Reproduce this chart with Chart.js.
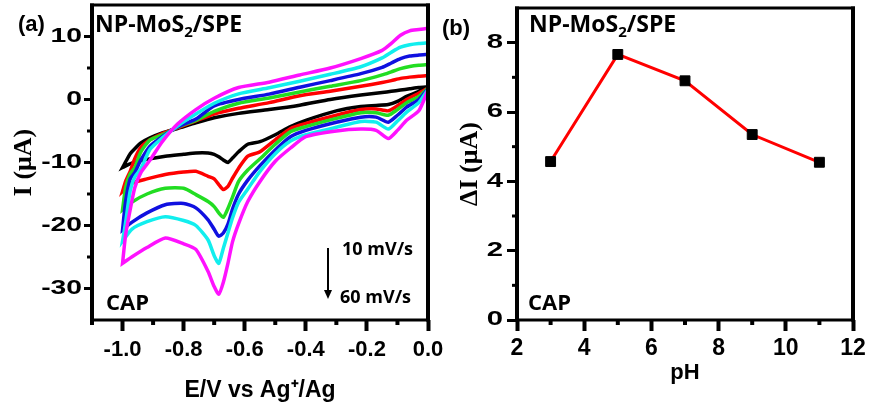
<!DOCTYPE html>
<html>
<head>
<meta charset="utf-8">
<script src="https://cdn.jsdelivr.net/npm/chart.js@4.4.1/dist/chart.umd.min.js"></script>
<style>
  html, body { margin: 0; padding: 0; background: #fff; }
  #wrap { position: relative; width: 870px; height: 405px; overflow: hidden; }
  .panel { position: absolute; top: 0; height: 405px; }
  #panelA { left: 0; width: 460px; }
  #panelB { left: 440px; width: 430px; }
</style>
</head>
<body>
<div id="wrap">
  <div class="panel" id="panelA"><canvas id="cvChart"></canvas></div>
  <div class="panel" id="panelB"><canvas id="phChart"></canvas></div>
</div>
<script>
// ---- (a) cyclic voltammograms, NP-MoS2/SPE in CAP, 10..60 mV/s ----
const scanColors = ['#000000', '#ff0000', '#22dd22', '#1010e0', '#11eeee', '#ff11ff'];

// cathodic sweep 0 -> -1.0 V
const potentialsDown = [0.0, -0.03, -0.07, -0.10, -0.13, -0.17, -0.22, -0.30, -0.40, -0.45, -0.50, -0.55, -0.59,
  -0.62, -0.64, -0.655, -0.67, -0.685, -0.70, -0.72, -0.76, -0.80, -0.86, -0.92, -0.97, -1.0];
// anodic sweep -1.0 -> 0 V
const potentialsUp = [-1.0, -0.99, -0.975, -0.96, -0.94, -0.91, -0.87, -0.82, -0.76, -0.70, -0.62, -0.52, -0.42,
  -0.32, -0.22, -0.15, -0.12, -0.09, -0.06, -0.03, 0.0];

const down10 = [1.9, 1.3, 0.5, -0.3, -0.8, -0.95, -1.1, -1.8, -3.3, -4.3, -5.6, -6.7, -7.1, -8.3, -9.3, -10.0, -9.6, -9.1, -8.7, -8.5, -8.5, -8.7, -9.0, -9.5, -10.1, -10.8];
const down20 = [1.8, 1.0, 0.0, -1.0, -1.8, -1.5, -1.6, -2.5, -3.8, -4.6, -6.4, -8.3, -9.0, -10.9, -12.5, -13.8, -14.3, -13.5, -12.6, -12.2, -11.4, -11.5, -11.9, -12.6, -13.3, -14.6];
const down30 = [1.8, 0.5, -0.5, -1.6, -2.5, -2.1, -2.1, -3.0, -4.3, -5.1, -7.1, -9.4, -11.2, -13.0, -15.5, -17.3, -18.7, -18.0, -17.0, -16.2, -15.1, -14.1, -14.1, -15.0, -16.3, -17.5];
const down40 = [1.7, 0.0, -1.2, -2.5, -3.6, -2.8, -2.8, -3.6, -4.9, -5.9, -8.0, -10.5, -12.8, -15.0, -17.4, -19.8, -21.2, -21.7, -20.6, -19.1, -17.2, -16.5, -16.7, -18.0, -19.5, -20.7];
const down50 = [1.6, -0.5, -2.0, -3.4, -4.7, -3.6, -3.5, -4.4, -5.6, -6.6, -8.6, -11.4, -14.2, -16.3, -18.8, -21.2, -23.6, -26.0, -24.8, -22.3, -20.0, -19.2, -18.6, -19.4, -20.6, -22.5];
const down60 = [1.5, -1.8, -3.3, -4.9, -6.2, -4.9, -4.7, -5.0, -5.9, -7.7, -9.8, -13.0, -16.2, -19.7, -22.6, -26.0, -29.0, -30.9, -29.7, -27.3, -23.8, -22.9, -22.0, -23.5, -25.0, -26.0];

const up10 = [-10.8, -9.9, -8.6, -7.8, -6.9, -6.1, -5.3, -4.6, -3.7, -2.9, -2.2, -1.6, -0.9, 0.0, 0.7, 1.1, 1.3, 1.5, 1.7, 1.9, 2.0];
const up20 = [-14.6, -13.0, -11.4, -9.4, -7.6, -6.4, -5.4, -4.5, -3.4, -2.3, -1.4, -0.5, 0.6, 1.3, 2.1, 2.7, 3.0, 3.35, 3.55, 3.7, 3.8];
const up30 = [-17.5, -14.0, -11.8, -10.8, -8.3, -6.4, -5.6, -4.4, -3.3, -1.9, -0.6, 0.25, 1.2, 2.1, 3.0, 3.9, 4.4, 4.9, 5.25, 5.45, 5.55];
const up40 = [-20.7, -16.2, -12.6, -11.6, -9.6, -7.4, -5.9, -4.35, -3.1, -1.0, 0.0, 0.85, 1.95, 3.0, 4.1, 5.1, 5.8, 6.5, 6.9, 7.05, 7.15];
const up50 = [-22.5, -19.5, -14.5, -12.3, -11.0, -7.9, -6.1, -4.2, -2.3, -0.6, 0.9, 1.86, 2.9, 4.0, 5.2, 6.6, 7.5, 8.3, 8.7, 8.9, 9.0];
const up60 = [-26.0, -21.5, -17.5, -14.0, -11.6, -9.6, -6.7, -3.9, -1.6, 0.2, 1.9, 2.75, 3.9, 5.0, 6.5, 7.8, 8.9, 10.2, 10.9, 11.1, 11.3];

const cvTicksX = [-1.0, -0.8, -0.6, -0.4, -0.2, 0.0];
const cvMinorX = [-1.1, -0.9, -0.7, -0.5, -0.3, -0.1];
const cvTicksY = [-30, -20, -10, 0, 10];
const cvMinorY = [-25, -15, -5, 5];

// ---- (b) peak current vs pH ----
const phValues = [3, 5, 7, 9, 11];
const deltaI = [4.57, 7.66, 6.9, 5.35, 4.55];

const phTicksX = [2, 4, 6, 8, 10, 12];
const phMinorX = [3, 5, 7, 9, 11];
const phTicksY = [0, 2, 4, 6, 8];
const phMinorY = [1, 3, 5, 7];

const SANS = "'Liberation Sans', Arial, sans-serif";
const SERIF = "'Liberation Serif', 'Times New Roman', serif";
const NOTE = "'Open Sans', sans-serif";

function cvSeries(down, up) {
  return potentialsDown.map((e, i) => ({ x: e, y: down[i] }))
    .concat(potentialsUp.map((e, i) => ({ x: e, y: up[i] })));
}

// box round the plot area + minor ticks; y tick labels are drawn wide like the original
const framePlugin = {
  id: 'frame',
  beforeDraw(chart, args, opts) {
    const sy = chart.scales.y;
    if (sy._wide) return;
    const draw = sy.drawLabels;
    sy.drawLabels = function (area) {
      const ctx = this.ctx;
      const ax = this.right - this.options.grid.tickLength - this.options.ticks.padding;
      ctx.save();
      ctx.translate(ax, 0); ctx.scale(opts.labelStretch, 1); ctx.translate(-ax, 0);
      draw.call(this, area);
      ctx.restore();
    };
    sy._wide = true;
  },
  afterDatasetsDraw(chart, args, opts) {
    const { ctx, chartArea: a, scales } = chart;
    ctx.save();
    ctx.strokeStyle = '#000';
    ctx.lineWidth = opts.vWidth;
    opts.minorX.forEach(v => {
      const px = scales.x.getPixelForValue(v);
      ctx.beginPath(); ctx.moveTo(px, a.bottom); ctx.lineTo(px, a.bottom + opts.minorLen); ctx.stroke();
    });
    ctx.lineWidth = opts.hWidth;
    opts.minorY.forEach(v => {
      const py = scales.y.getPixelForValue(v);
      ctx.beginPath(); ctx.moveTo(a.left, py); ctx.lineTo(a.left - opts.minorLen, py); ctx.stroke();
    });
    const hv = opts.vWidth / 2, hh = opts.hWidth / 2;
    ctx.lineWidth = opts.hWidth;
    ctx.beginPath();
    ctx.moveTo(a.left - hv, a.top); ctx.lineTo(a.right + hv, a.top);
    ctx.moveTo(a.left - hv, a.bottom); ctx.lineTo(a.right + hv, a.bottom);
    ctx.stroke();
    ctx.lineWidth = opts.vWidth;
    ctx.beginPath();
    ctx.moveTo(a.left, a.top - hh); ctx.lineTo(a.left, a.bottom + hh);
    ctx.moveTo(a.right, a.top - hh); ctx.lineTo(a.right, a.bottom + hh);
    ctx.stroke();
    ctx.restore();
  }
};

// panel labels and notes
const notesPlugin = {
  id: 'notes',
  afterDraw(chart, args, opts) {
    const ctx = chart.ctx;
    ctx.save();
    ctx.fillStyle = '#000';
    ctx.textBaseline = 'alphabetic';
    ctx.textAlign = 'left';
    opts.items.forEach(it => {
      let x = it.x;
      it.parts.forEach(p => {
        ctx.font = 'bold ' + p.size + 'px ' + (p.family || NOTE);
        ctx.fillText(p.t, x, it.y + (p.dy || 0));
        x += ctx.measureText(p.t).width;
      });
    });
    if (opts.arrow) {
      const ar = opts.arrow;
      ctx.strokeStyle = '#000';
      ctx.lineWidth = 2;
      ctx.beginPath(); ctx.moveTo(ar.x, ar.y1); ctx.lineTo(ar.x, ar.y2 - 6); ctx.stroke();
      ctx.beginPath();
      ctx.moveTo(ar.x - 4, ar.y2 - 9); ctx.lineTo(ar.x + 4, ar.y2 - 9); ctx.lineTo(ar.x, ar.y2);
      ctx.closePath(); ctx.fill();
    }
    ctx.restore();
  }
};

function moSLabel(x, y) {
  return { parts: [{ t: 'NP-MoS', size: 23 }, { t: '2', size: 15, dy: 5 }, { t: '/SPE', size: 23 }], x: x, y: y };
}

const cvData = [down10, down20, down30, down40, down50, down60];
const cvUp = [up10, up20, up30, up40, up50, up60];
const rateLabels = ['10 mV/s', '20 mV/s', '30 mV/s', '40 mV/s', '50 mV/s', '60 mV/s'];

new Chart(document.getElementById('cvChart'), {
  type: 'scatter',
  data: {
    datasets: rateLabels.map((lab, i) => ({
      label: lab,
      data: cvSeries(cvData[i], cvUp[i]),
      showLine: true,
      borderColor: scanColors[i],
      borderWidth: 3.5,
      pointRadius: 0,
      tension: 0.2,
      order: rateLabels.length - i
    }))
  },
  options: {
    responsive: true,
    maintainAspectRatio: false,
    animation: false,
    layout: { padding: { top: 5, right: 32, left: 0, bottom: 0 } },
    plugins: {
      legend: { display: false },
      tooltip: { enabled: false },
      frame: { minorX: cvMinorX, minorY: cvMinorY, minorLen: 5, vWidth: 4, hWidth: 3, labelStretch: 1.45 },
      notes: {
        items: [
          { parts: [{ t: '(a)', size: 22, family: SANS }], x: 18, y: 31 },
          moSLabel(95, 32),
          { parts: [{ t: 'CAP', size: 22 }], x: 106, y: 310 },
          { parts: [{ t: '10 mV/s', size: 18 }], x: 342, y: 255 },
          { parts: [{ t: '60 mV/s', size: 18 }], x: 340, y: 303 }
        ],
        arrow: { x: 328, y1: 248, y2: 299 }
      }
    },
    scales: {
      x: {
        type: 'linear', min: -1.1, max: 0,
        afterBuildTicks: ax => { ax.ticks = cvTicksX.map(v => ({ value: v })); },
        afterFit: ax => { ax.height = 85; ax.paddingLeft = 0; ax.paddingRight = 0; },
        grid: { drawOnChartArea: false, tickLength: 11, tickWidth: 4, tickColor: '#000' },
        border: { display: false },
        ticks: { color: '#000', padding: 6, maxRotation: 0, autoSkip: false,
          font: { family: SANS, size: 22, weight: 'bold' }, callback: v => v.toFixed(1) },
        title: { display: true, text: 'E/V vs Ag\u207A/Ag', color: '#000',
          font: { family: SANS, size: 23, weight: 'bold' }, padding: { top: 0, bottom: 1 } }
      },
      y: {
        type: 'linear', min: -35, max: 15,
        afterBuildTicks: ax => { ax.ticks = cvTicksY.map(v => ({ value: v })); },
        afterFit: ax => { ax.width = 92; ax.paddingTop = 0; ax.paddingBottom = 0; },
        grid: { drawOnChartArea: false, tickLength: 8, tickWidth: 3, tickColor: '#000' },
        border: { display: false },
        ticks: { color: '#000', padding: 2, autoSkip: false,
          font: { family: SANS, size: 19.5, weight: 'bold' }, callback: v => String(v) },
        title: { display: true, text: 'I (\u03BCA)', color: '#000',
          font: { family: SERIF, size: 26, weight: 'bold' }, padding: { top: 9, bottom: 0 } }
      }
    }
  },
  plugins: [framePlugin, notesPlugin]
});

new Chart(document.getElementById('phChart'), {
  type: 'scatter',
  data: {
    datasets: [{
      label: '\u0394I',
      data: phValues.map((p, i) => ({ x: p, y: deltaI[i] })),
      showLine: true,
      borderColor: '#ff0000',
      borderWidth: 3,
      pointStyle: 'rect',
      pointRadius: 7,
      pointBackgroundColor: '#000',
      pointBorderColor: '#000',
      pointBorderWidth: 1
    }]
  },
  options: {
    responsive: true,
    maintainAspectRatio: false,
    animation: false,
    layout: { padding: { top: 5, right: 17, left: 0, bottom: 0 } },
    plugins: {
      legend: { display: false },
      tooltip: { enabled: false },
      frame: { minorX: phMinorX, minorY: phMinorY, minorLen: 5, vWidth: 4, hWidth: 3, labelStretch: 1.5 },
      notes: {
        items: [
          { parts: [{ t: '(b)', size: 22, family: SANS }], x: 2, y: 35 },
          moSLabel(89, 32),
          { parts: [{ t: 'CAP', size: 22 }], x: 88, y: 310 }
        ]
      }
    },
    scales: {
      x: {
        type: 'linear', min: 2, max: 12,
        afterBuildTicks: ax => { ax.ticks = phTicksX.map(v => ({ value: v })); },
        afterFit: ax => { ax.height = 85; ax.paddingLeft = 0; ax.paddingRight = 0; },
        grid: { drawOnChartArea: false, tickLength: 11, tickWidth: 4, tickColor: '#000' },
        border: { display: false },
        ticks: { color: '#000', padding: 4, maxRotation: 0, autoSkip: false,
          font: { family: SANS, size: 23, weight: 'bold' }, callback: v => String(v) },
        title: { display: true, text: 'pH', color: '#000',
          font: { family: SANS, size: 22, weight: 'bold' }, padding: { top: 0, bottom: 19 } }
      },
      y: {
        type: 'linear', min: 0, max: 9,
        afterBuildTicks: ax => { ax.ticks = phTicksY.map(v => ({ value: v })); },
        afterFit: ax => { ax.width = 77; ax.paddingTop = 0; ax.paddingBottom = 0; },
        grid: { drawOnChartArea: false, tickLength: 10, tickWidth: 3, tickColor: '#000' },
        border: { display: false },
        ticks: { color: '#000', padding: 4, autoSkip: false,
          font: { family: SANS, size: 19.5, weight: 'bold' }, callback: v => String(v) },
        title: { display: true, text: '\u0394I (\u03BCA)', color: '#000',
          font: { family: SERIF, size: 26, weight: 'bold' }, padding: { top: 15, bottom: 0 } }
      }
    }
  },
  plugins: [framePlugin, notesPlugin]
});
</script>
</body>
</html>
